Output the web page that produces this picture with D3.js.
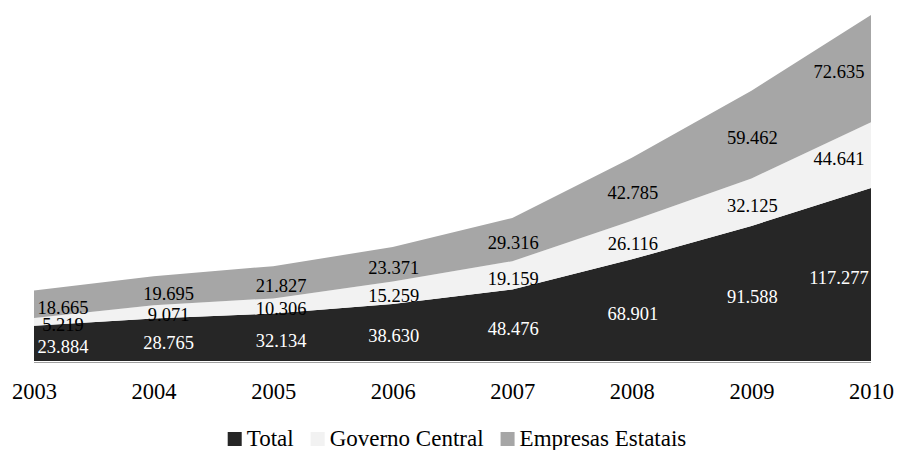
<!DOCTYPE html>
<html>
<head>
<meta charset="utf-8">
<script src="https://d3js.org/d3.v7.min.js"></script>
<style>
  body { margin: 0; background: #fff; }
  text { font-family: "Liberation Serif", "Times New Roman", serif; }
</style>
</head>
<body>
<div id="chart"></div>
<script>
// data (R$ milhões)
var years = [2003, 2004, 2005, 2006, 2007, 2008, 2009, 2010];
var total = [23884, 28765, 32134, 38630, 48476, 68901, 91588, 117277];
var governo = [5219, 9071, 10306, 15259, 19159, 26116, 32125, 44641];
var empresas = [18665, 19695, 21827, 23371, 29316, 42785, 59462, 72635];
var seriesNames = ["Total", "Governo Central", "Empresas Estatais"];
var seriesColors = ["#262626", "#f2f2f2", "#a6a6a6"];
var labelColors = ["#ffffff", "#000000", "#000000"];

// small horizontal nudges of the data labels, like in the original
var labelDx = [29, 15, 8, 1, 1, 1, 1, -32];

var width = 898, height = 450;

var rows = years.map(function(y, i) {
  return {year: y, Total: total[i], "Governo Central": governo[i], "Empresas Estatais": empresas[i]};
});

var stack = d3.stack().keys(seriesNames);
var layers = stack(rows);

var x = d3.scaleLinear().domain([2003, 2010]).range([34, 871]);
var y = d3.scaleLinear()
  .domain([0, d3.max(layers[layers.length - 1], function(d) { return d[1]; })])
  .range([361, 15]);

var br = d3.formatLocale({decimal: ",", thousands: ".", grouping: [3], currency: ["R$", ""]});
var fmt = br.format(",d");

var svg = d3.select("#chart").append("svg")
  .attr("width", width)
  .attr("height", height);

var area = d3.area()
  .x(function(d) { return x(d.data.year); })
  .y0(function(d) { return y(d[0]); })
  .y1(function(d) { return y(d[1]); });

svg.selectAll("path.layer")
  .data(layers)
  .enter().append("path")
  .attr("class", "layer")
  .attr("d", area)
  .attr("fill", function(d, i) { return seriesColors[i]; });

// baseline
svg.append("line")
  .attr("x1", x(2003)).attr("x2", x(2010))
  .attr("y1", y(0) + 1.5).attr("y2", y(0) + 1.5)
  .attr("stroke", "#a0a0a0")
  .attr("stroke-width", 1);

// data labels
layers.forEach(function(layer, li) {
  svg.selectAll("text.lab" + li)
    .data(layer)
    .enter().append("text")
    .attr("class", "lab" + li)
    .attr("x", function(d, i) { return x(d.data.year) + labelDx[i]; })
    .attr("y", function(d) { return (y(d[0]) + y(d[1])) / 2 + 3; })
    .attr("dy", "0.35em")
    .attr("text-anchor", "middle")
    .attr("font-size", "18.5px")
    .attr("fill", labelColors[li])
    .text(function(d) { return fmt(d[1] - d[0]); });
});

// x axis labels
var xAxis = d3.axisBottom(x)
  .tickValues(years)
  .tickFormat(d3.format("d"))
  .tickSize(0)
  .tickPadding(0);

var gx = svg.append("g")
  .attr("transform", "translate(0,383)")
  .call(xAxis);
gx.select(".domain").remove();
gx.selectAll("text")
  .attr("font-size", "22.5px")
  .attr("fill", "#000")
  .attr("dy", "0.71em")
  .style("font-family", "'Liberation Serif', 'Times New Roman', serif");

// legend
var legend = svg.append("g");
var lx = 0;
seriesNames.forEach(function(name, i) {
  var g = legend.append("g").attr("transform", "translate(" + lx + ",0)");
  g.append("rect")
    .attr("x", 0).attr("y", -14)
    .attr("width", 14).attr("height", 14)
    .attr("fill", seriesColors[i]);
  var t = g.append("text")
    .attr("x", 19).attr("y", 0)
    .attr("font-size", "23px")
    .attr("fill", "#000")
    .text(name);
  lx += 19 + t.node().getComputedTextLength() + 17;
});
var legendWidth = lx - 17;
legend.attr("transform", "translate(" + (457 - legendWidth / 2) + ",446)");
</script>
</body>
</html>
